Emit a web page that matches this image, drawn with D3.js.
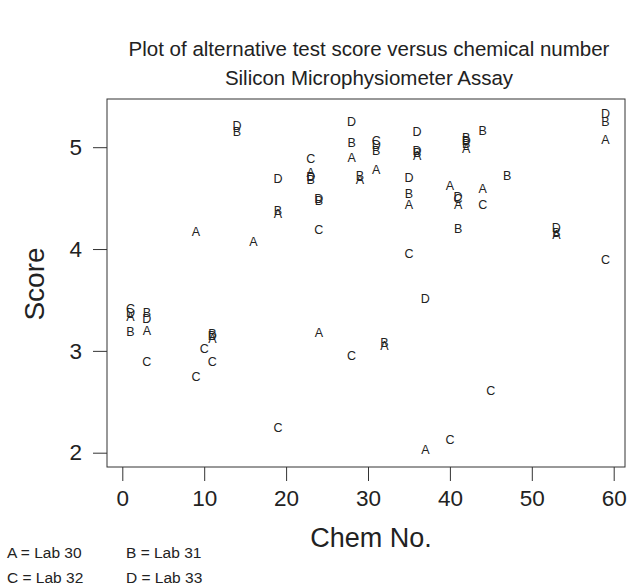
<!DOCTYPE html>
<html>
<head>
<meta charset="utf-8">
<script src="https://cdn.jsdelivr.net/npm/d3@7"></script>
<style>
  html, body { margin: 0; padding: 0; background: #fff; }
  svg { display: block; font-family: "Liberation Sans", Arial, sans-serif; }
</style>
</head>
<body>
<svg id="chart" width="629" height="584"></svg>
<script>
// Scores per lab: [chemical number, score]
const lab30 = [[1,3.34],[3,3.20],[9,4.17],[11,3.12],[16,4.07],[19,4.35],[23,4.75],[24,3.18],[28,4.90],[29,4.68],[31,4.78],[32,3.05],[35,4.44],[36,4.92],[37,2.03],[40,4.62],[41,4.44],[42,4.99],[44,4.59],[53,4.14],[59,5.08]];
const lab31 = [[1,3.19],[3,3.38],[11,3.17],[14,5.15],[19,4.38],[23,4.68],[24,4.48],[28,5.05],[29,4.72],[31,4.97],[32,3.08],[35,4.55],[36,4.95],[41,4.20],[42,5.10],[42,5.04],[44,5.16],[47,4.72],[53,4.16],[59,5.25]];
const lab32 = [[1,3.42],[3,2.90],[9,2.75],[10,3.02],[11,2.90],[19,2.25],[23,4.89],[24,4.19],[28,2.95],[31,5.07],[35,3.96],[40,2.13],[41,4.50],[44,4.44],[45,2.61],[59,3.90]];
const lab33 = [[1,3.38],[3,3.32],[11,3.15],[14,5.21],[19,4.69],[23,4.71],[24,4.50],[28,5.25],[31,5.03],[35,4.70],[36,5.15],[36,4.97],[37,3.51],[41,4.52],[42,5.07],[53,4.21],[59,5.33]];

const symbols = ["A", "B", "C", "D"];
const labNames = ["Lab 30", "Lab 31", "Lab 32", "Lab 33"];
const xTicks = [0, 10, 20, 30, 40, 50, 60];
const yTicks = [2, 3, 4, 5];

const titleLines = ["Plot of alternative test score versus chemical number", "Silicon Microphysiometer Assay"];

const series = [lab30, lab31, lab32, lab33].map((pts, i) =>
  pts.map(([chem, score]) => ({ chem, score, sym: symbols[i] })));

const svg = d3.select("#chart");
const box = { left: 107, right: 625, top: 99, bottom: 467 };

const x = d3.scaleLinear().domain([0, 60]).range([122.3, 613.7]);
const y = d3.scaleLinear().domain([2, 5]).range([452.7, 147.2]);

const ink = "#222";
const font = "Liberation Sans, Arial, sans-serif";

// Title
svg.append("g").selectAll("text").data(titleLines).join("text")
  .attr("x", 369).attr("y", (d, i) => 55.5 + i * 29)
  .attr("text-anchor", "middle").attr("font-size", 20.5).attr("fill", ink)
  .text(d => d);

// Plot frame
svg.append("rect")
  .attr("x", box.left).attr("y", box.top)
  .attr("width", box.right - box.left).attr("height", box.bottom - box.top)
  .attr("fill", "none").attr("stroke", "#333").attr("stroke-width", 1);

// Axes
const xAxis = svg.append("g").attr("transform", `translate(0,${box.bottom})`)
  .call(d3.axisBottom(x).tickValues(xTicks).tickSize(14).tickPadding(9).tickFormat(d3.format("d")));
xAxis.select(".domain").remove();
xAxis.selectAll("line").attr("stroke", "#333");
xAxis.selectAll("text").attr("font-size", 22.5).attr("fill", ink).attr("font-family", font);

const yAxis = svg.append("g").attr("transform", `translate(${box.left},0)`)
  .call(d3.axisLeft(y).tickValues(yTicks).tickSize(14).tickPadding(11).tickFormat(d3.format("d")));
yAxis.select(".domain").remove();
yAxis.selectAll("line").attr("stroke", "#333");
yAxis.selectAll("text").attr("font-size", 22.5).attr("fill", ink).attr("font-family", font);

// Axis titles
svg.append("text").attr("x", 371).attr("y", 546.5)
  .attr("text-anchor", "middle").attr("font-size", 27).attr("fill", ink).text("Chem No.");
svg.append("text").attr("transform", "translate(44,284) rotate(-90)")
  .attr("text-anchor", "middle").attr("font-size", 28).attr("fill", ink).text("Score");

// Letter markers
svg.append("g").selectAll("g").data(series).join("g")
  .selectAll("text").data(d => d).join("text")
  .attr("x", d => x(d.chem)).attr("y", d => y(d.score) + 4.5)
  .attr("text-anchor", "middle").attr("font-size", 12.5).attr("fill", ink)
  .text(d => d.sym);

// Symbol key
svg.append("g").selectAll("text").data(symbols).join("text")
  .attr("x", (d, i) => i % 2 === 0 ? 7 : 126)
  .attr("y", (d, i) => i < 2 ? 557.5 : 582.5)
  .attr("font-size", 15.5).attr("fill", ink)
  .text((d, i) => `${d} = ${labNames[i]}`);
</script>
</body>
</html>
